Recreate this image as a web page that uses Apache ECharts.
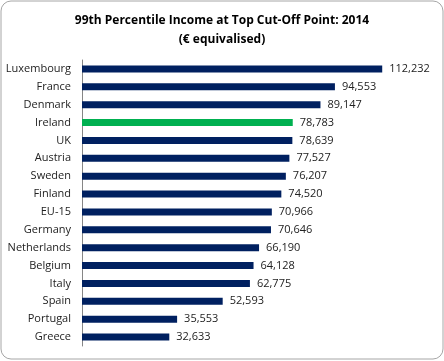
<!DOCTYPE html>
<html><head><meta charset="utf-8">
<script src="https://cdn.jsdelivr.net/npm/echarts@6/dist/echarts.min.js"></script>
<style>html,body{margin:0;padding:0;background:#fff}#c{width:444px;height:361px}</style>
</head><body><div id="c"></div>
<script>
var categories = ["Luxembourg","France","Denmark","Ireland","UK","Austria","Sweden","Finland","EU-15","Germany","Netherlands","Belgium","Italy","Spain","Portugal","Greece"];
var values = [112232,94553,89147,78783,78639,77527,76207,74520,70966,70646,66190,64128,62775,52593,35553,32633];
var highlight = "Ireland";
var chart = echarts.init(document.getElementById('c'), null, {renderer:'canvas'});
var font = "Open Sans";
chart.setOption({
  animation:false,
  backgroundColor:'#fff',
  graphic:[{type:'rect',shape:{x:1,y:1,width:442,height:358,r:10},style:{fill:'none',stroke:'#a6a6a6',lineWidth:1},z:-1}],
  title:{text:"99th Percentile Income at Top Cut-Off Point: 2014\n(€ equivalised)",left:'center',top:6,
    textStyle:{fontFamily:font,fontWeight:'bold',fontSize:12,color:'#000',lineHeight:19}},
  grid:{left:82,top:60,width:321,bottom:15,containLabel:false},
  xAxis:{type:'value',min:0,max:120000,show:false},
  yAxis:{type:'category',data:categories,inverse:true,
    axisLine:{lineStyle:{color:'#868686'}},
    axisTick:{length:4,lineStyle:{color:'#868686'}},
    axisLabel:{fontFamily:font,fontSize:11,color:'#222',margin:11}},
  series:[{type:'bar',barWidth:7,
    data:values.map(function(v,i){return {value:v,itemStyle:{color:categories[i]===highlight?'#00B050':'#002060'}};}),
    label:{show:true,position:'right',distance:7,fontFamily:font,fontSize:11,color:'#222',
      formatter:function(p){return p.value.toLocaleString('en-US');}}}]
});
</script></body></html>
